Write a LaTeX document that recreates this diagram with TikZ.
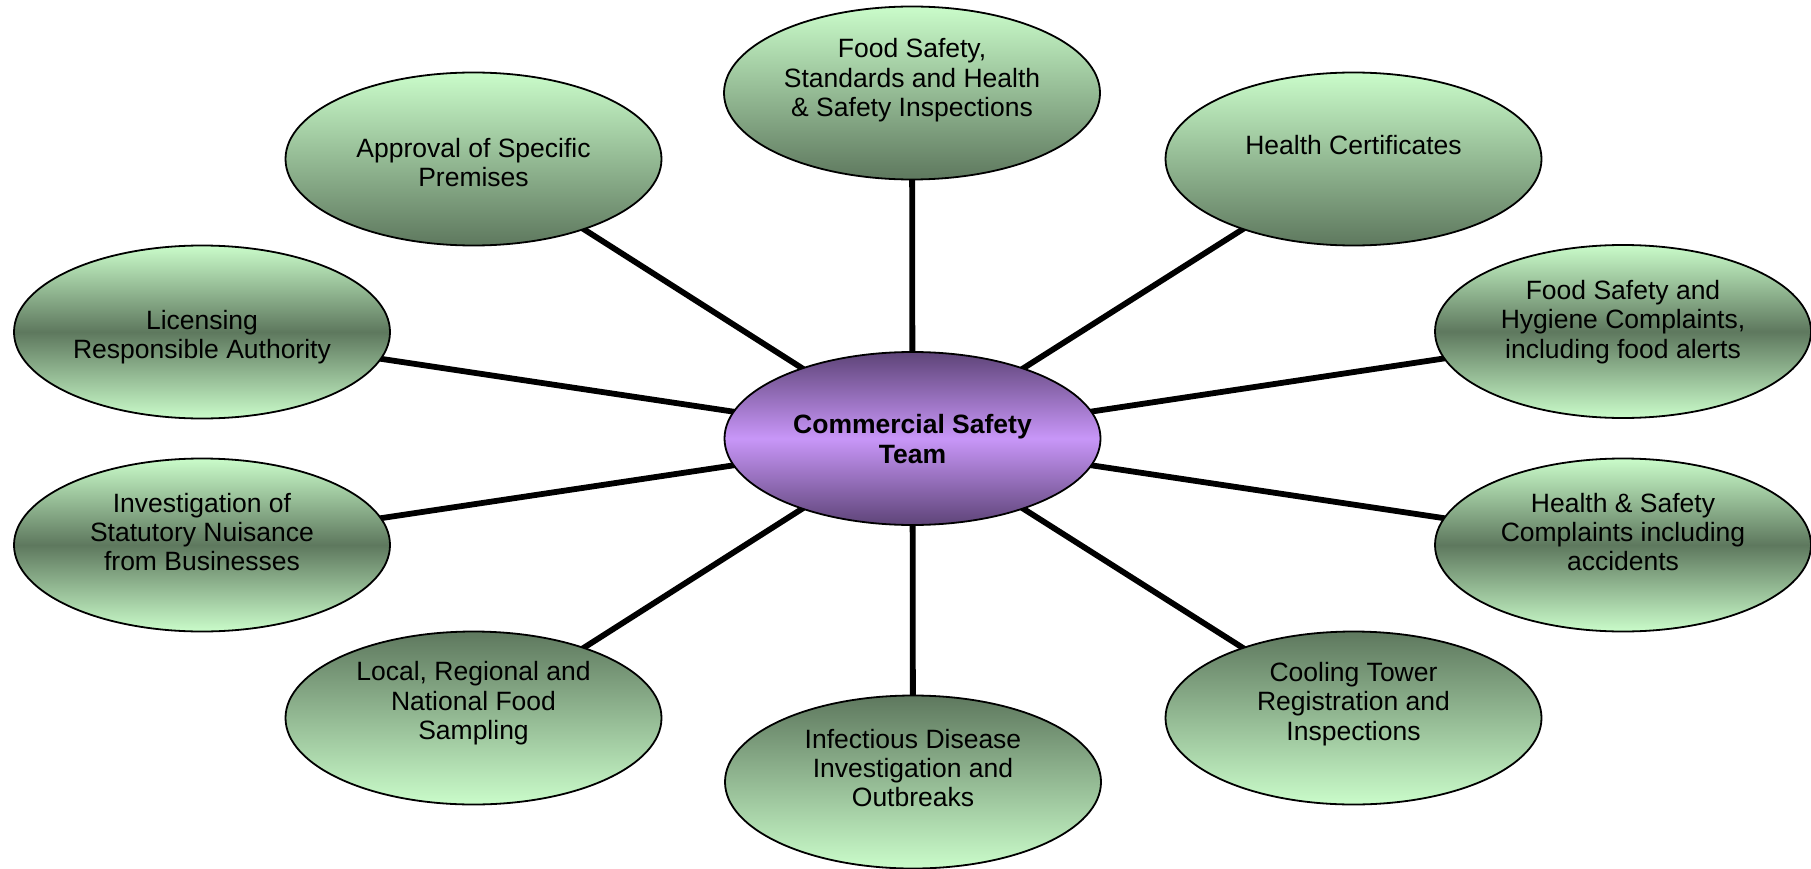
\documentclass[tikz,border=0pt]{standalone}
\usepackage{fontspec}
\setmainfont{Liberation Sans}
\usetikzlibrary{shapes.geometric,backgrounds}
\definecolor{lightg}{RGB}{202,252,202}
\definecolor{darkg}{RGB}{94,120,94}
\definecolor{lightp}{RGB}{200,150,248}
\definecolor{darkp}{RGB}{94,68,120}
\tikzset{
  bubble/.style={ellipse, draw=black, line width=1.8pt, minimum width=376pt, minimum height=173pt, inner sep=0pt},
  lighttop/.style={bubble, top color=lightg, bottom color=darkg},
  darktop/.style={bubble, top color=darkg, bottom color=lightg},
  darkmid/.style={bubble, top color=lightg, bottom color=lightg, middle color=darkg},
  hub/.style={bubble, top color=darkp, bottom color=darkp, middle color=lightp},
  txt/.style={align=center, inner sep=0pt, font=\fontsize{26.5}{29.4}\selectfont},
  spoke/.style={line width=5.8pt, black}
}
\begin{document}
\begin{tikzpicture}[x=1pt,y=-1pt]
\useasboundingbox (0,0) rectangle (1811,869);
\node[hub] (c) at (912.5,438.5) {};
\node[lighttop] (n1) at (912,93) {};
\node[lighttop] (n2) at (1353.5,159) {};
\node[darkmid] (n3) at (1623,331.5) {};
\node[darkmid] (n4) at (1623,545) {};
\node[darktop] (n5) at (1353.5,718) {};
\node[darktop] (n6) at (913,782) {};
\node[darktop] (n7) at (473.5,718) {};
\node[darkmid] (n8) at (202,545) {};
\node[darkmid] (n9) at (202,332) {};
\node[lighttop] (n10) at (473.5,159) {};
\begin{pgfonlayer}{background}
\foreach \n in {n1,n2,n3,n4,n5,n6,n7,n8,n9,n10}
  \draw[spoke] (c.center) -- (\n.center);
\end{pgfonlayer}
\node[txt, font=\fontsize{26.5}{29.4}\selectfont\bfseries] (tc) at (912.5,439) {Commercial Safety\\Team};
\node[txt] (t1) at (912,80.5) {Food Safety,\\Standards and Health\\\& Safety Inspections};
\node[txt] (t2) at (1353.5,145) {Health Certificates};
\node[txt] (t3) at (1623,322) {Food Safety and\\Hygiene Complaints,\\including food alerts};
\node[txt] (t4) at (1623,532) {Health \& Safety\\Complaints including\\accidents};
\node[txt] (t5) at (1353.5,704) {Cooling Tower\\Registration and\\Inspections};
\node[txt] (t6) at (913,768) {Infectious Disease\\Investigation and\\Outbreaks};
\node[txt] (t7) at (473.5,703.5) {Local, Regional and\\National Food\\Sampling};
\node[txt] (t8) at (202,532) {Investigation of\\Statutory Nuisance\\from Businesses};
\node[txt] (t9) at (202,337) {Licensing\\Responsible Authority};
\node[txt] (t10) at (473.5,162.5) {Approval of Specific\\Premises};
\end{tikzpicture}
\end{document}
